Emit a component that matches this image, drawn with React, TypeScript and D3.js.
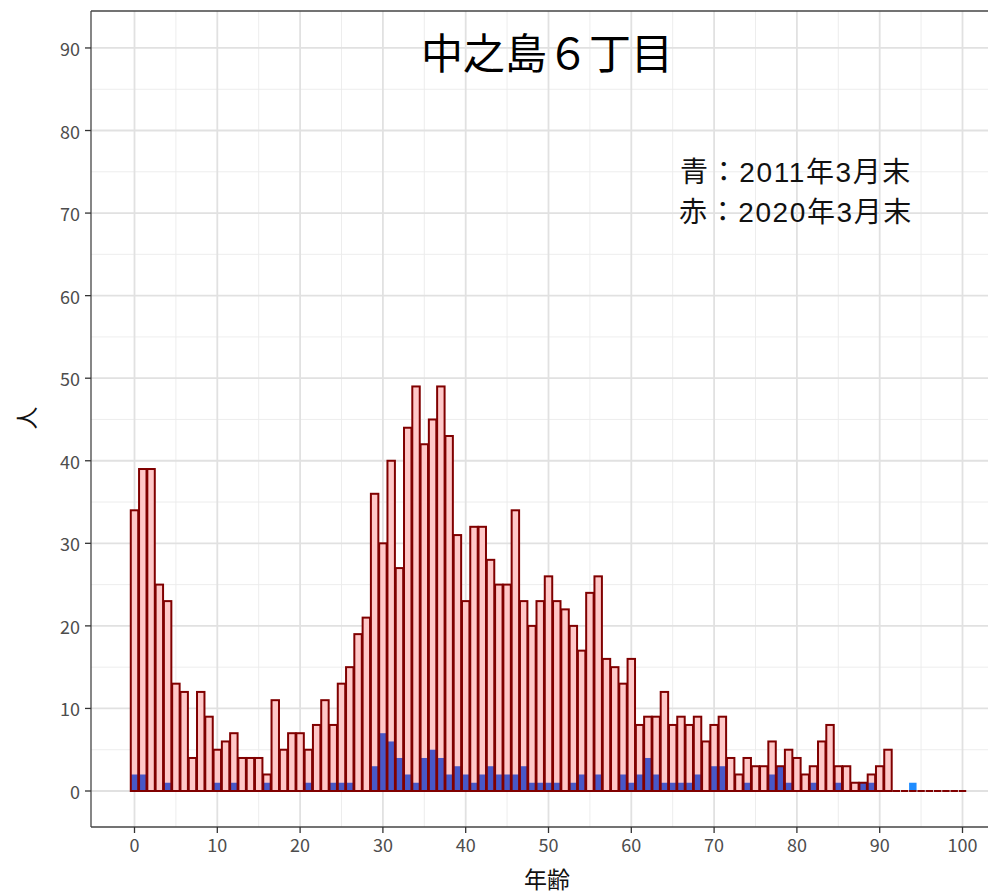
import React from "react";
import * as d3 from "d3";

const ages: number[] = d3.range(0, 101);
const pop2020: number[] = [
  34, 39, 39, 25, 23, 13, 12, 4, 12, 9,
  5, 6, 7, 4, 4, 4, 2, 11, 5, 7,
  7, 5, 8, 11, 8, 13, 15, 19, 21, 36,
  30, 40, 27, 44, 49, 42, 45, 49, 43, 31,
  23, 32, 32, 28, 25, 25, 34, 23, 20, 23,
  26, 23, 22, 20, 17, 24, 26, 16, 15, 13,
  16, 8, 9, 9, 12, 8, 9, 8, 9, 6,
  8, 9, 4, 2, 4, 3, 3, 6, 3, 5,
  4, 2, 3, 6, 8, 3, 3, 1, 1, 2,
  3, 5, 0, 0, 0, 0, 0, 0, 0, 0,
  0,
];
const pop2011: number[] = [
  2, 2, 0, 0, 1, 0, 0, 0, 0, 0,
  1, 0, 1, 0, 0, 0, 1, 0, 0, 0,
  0, 1, 0, 0, 1, 1, 1, 0, 0, 3,
  7, 6, 4, 2, 1, 4, 5, 4, 2, 3,
  2, 1, 2, 3, 2, 2, 2, 3, 1, 1,
  1, 1, 0, 1, 2, 0, 2, 0, 0, 2,
  1, 2, 4, 2, 1, 1, 1, 1, 2, 0,
  3, 3, 0, 0, 1, 0, 0, 2, 3, 1,
  0, 0, 1, 0, 0, 1, 0, 0, 1, 1,
  0, 0, 0, 0, 1, 0, 0, 0, 0, 0,
  0,
];
const xTicks: number[] = [0, 10, 20, 30, 40, 50, 60, 70, 80, 90, 100];
const yTicks: number[] = [0, 10, 20, 30, 40, 50, 60, 70, 80, 90];
const xMinor: number[] = [5, 15, 25, 35, 45, 55, 65, 75, 85, 95];
const yMinor: number[] = [5, 15, 25, 35, 45, 55, 65, 75, 85];
const titleText = "中之島６丁目";
const legendLines: string[] = ["青：2011年3月末", "赤：2020年3月末"];
const xLabel = "年齢";
const yLabel = "人";

const W = 988;
const H = 896;
const panel = { left: 91, top: 11, right: 1010, bottom: 827 };
const FONT = "'Noto Sans CJK JP', 'Noto Sans', sans-serif";
const LEGEND_FONT = "'Liberation Sans', 'Noto Sans CJK JP', sans-serif";

export default function App() {
  const x = d3.scaleLinear().domain([0, 100]).range([134.5, 962.5]);
  const y = d3.scaleLinear().domain([0, 90]).range([791, 47.96]);
  const bw = (x(1) - x(0)) * 0.9;

  return (
    <svg
      width={W}
      height={H}
      style={{ position: "absolute", left: 0, top: 0, background: "#fff" }}
      fontFamily={FONT}
    >
      <defs>
        <clipPath id="pclip">
          <rect x={panel.left} y={panel.top} width={panel.right - panel.left} height={panel.bottom - panel.top} />
        </clipPath>
      </defs>
      <rect x={0} y={0} width={W} height={H} fill="#fff" />
      <g clipPath="url(#pclip)">
        {xMinor.map((v) => (
          <line key={"xm" + v} x1={x(v)} x2={x(v)} y1={panel.top} y2={panel.bottom} stroke="#ebebeb" strokeWidth={0.9} />
        ))}
        {yMinor.map((v) => (
          <line key={"ym" + v} x1={panel.left} x2={panel.right} y1={y(v)} y2={y(v)} stroke="#ebebeb" strokeWidth={0.9} />
        ))}
        {xTicks.map((v) => (
          <line key={"xg" + v} x1={x(v)} x2={x(v)} y1={panel.top} y2={panel.bottom} stroke="#e1e1e1" strokeWidth={1.8} />
        ))}
        {yTicks.map((v) => (
          <line key={"yg" + v} x1={panel.left} x2={panel.right} y1={y(v)} y2={y(v)} stroke="#e1e1e1" strokeWidth={1.8} />
        ))}
        {ages.map((a, i) =>
          pop2020[i] > 0 ? (
            <rect key={"rf" + a} x={x(a) - bw / 2} y={y(pop2020[i])} width={bw} height={y(0) - y(pop2020[i])} fill="#ffc8c8" />
          ) : null
        )}
        {ages.map((a, i) =>
          pop2011[i] > 0 ? (
            <rect
              key={"b" + a}
              x={x(a) - bw / 2}
              y={y(pop2011[i])}
              width={bw}
              height={y(0) - y(pop2011[i])}
              fill={pop2020[i] > 0 ? "#4858c8" : "#1f8cff"}
            />
          ) : null
        )}
        {ages.map((a, i) =>
          pop2020[i] > 0 ? (
            <rect
              key={"ro" + a}
              x={x(a) - bw / 2}
              y={y(pop2020[i])}
              width={bw}
              height={y(0) - y(pop2020[i])}
              fill="none"
              stroke="#800000"
              strokeWidth={2}
            />
          ) : (
            <line key={"rz" + a} x1={x(a) - bw / 2} x2={x(a) + bw / 2} y1={y(0)} y2={y(0)} stroke="#800000" strokeWidth={2} />
          )
        )}
        <text x={547} y={50} textAnchor="middle" dominantBaseline="central" fontSize={42} fill="#000">
          {titleText}
        </text>
        {legendLines.map((t, i) => (
          <text
            key={t}
            x={796}
            y={172 + i * 40}
            textAnchor="middle"
            dominantBaseline="central"
            fontSize={28}
            letterSpacing={1.6}
            fill="#111"
            fontFamily={LEGEND_FONT}
          >
            {t}
          </text>
        ))}
      </g>
      <line x1={panel.left} x2={panel.left} y1={panel.top} y2={panel.bottom} stroke="#444" strokeWidth={1.3} />
      <line x1={panel.left} x2={W + 2} y1={panel.top} y2={panel.top} stroke="#444" strokeWidth={1.3} />
      <line x1={panel.left} x2={W + 2} y1={panel.bottom} y2={panel.bottom} stroke="#444" strokeWidth={1.3} />
      {yTicks.map((v) => (
        <g key={"yt" + v}>
          <line x1={panel.left - 6} x2={panel.left} y1={y(v)} y2={y(v)} stroke="#333" strokeWidth={1.3} />
          <text x={panel.left - 11} y={y(v)} textAnchor="end" dominantBaseline="central" fontSize={18} fill="#4d4d4d">
            {v}
          </text>
        </g>
      ))}
      {xTicks.map((v) => (
        <g key={"xt" + v}>
          <line x1={x(v)} x2={x(v)} y1={panel.bottom} y2={panel.bottom + 6} stroke="#333" strokeWidth={1.3} />
          <text x={x(v)} y={panel.bottom + 17} textAnchor="middle" dominantBaseline="central" fontSize={18} fill="#4d4d4d">
            {v}
          </text>
        </g>
      ))}
      <text x={547} y={878} textAnchor="middle" dominantBaseline="central" fontSize={23} fill="#111">
        {xLabel}
      </text>
      <text
        transform={`translate(25, ${418}) rotate(-90)`}
        textAnchor="middle"
        dominantBaseline="central"
        fontSize={23}
        fill="#111"
      >
        {yLabel}
      </text>
    </svg>
  );
}
